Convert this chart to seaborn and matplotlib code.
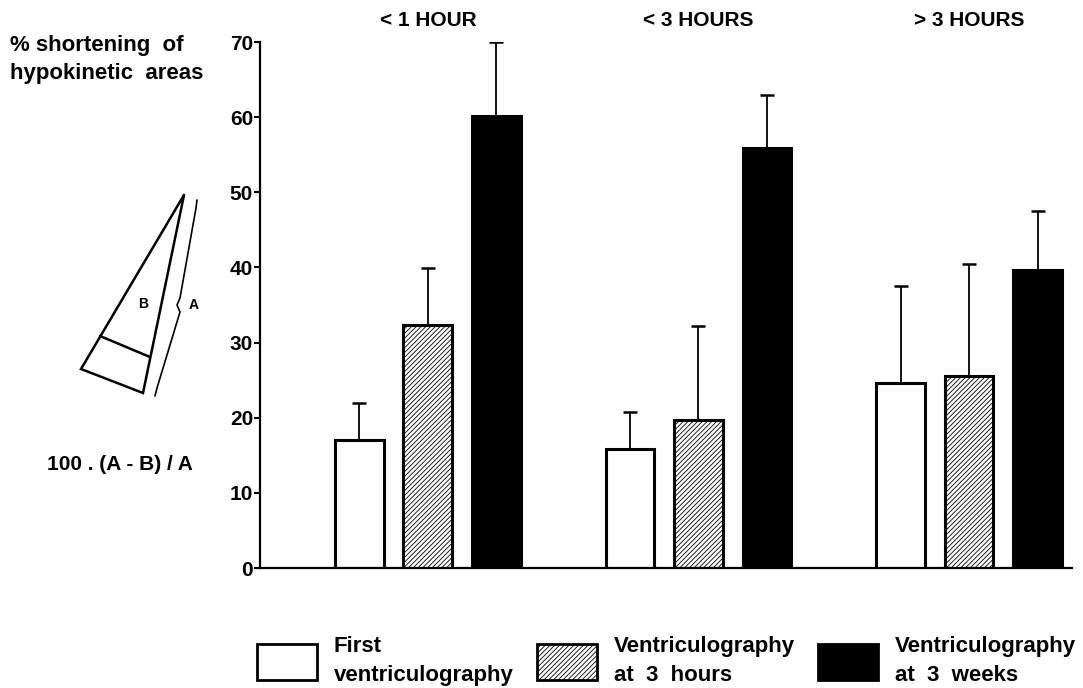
import matplotlib
matplotlib.use("Agg")
import matplotlib.pyplot as plt
import seaborn as sns
import numpy as np
import pandas as pd
from matplotlib.patches import Patch

# ---------------- data ----------------
groups = ["< 1 HOUR", "< 3 HOURS", "> 3 HOURS"]
series = ["First\nventriculography", "Ventriculography\nat  3  hours", "Ventriculography\nat  3  weeks"]
first_vals = [17.0, 15.8, 24.6]
first_err = [5.0, 5.0, 12.9]
h3_vals = [32.3, 19.7, 25.6]
h3_err = [7.6, 12.5, 14.9]
w3_vals = [60.2, 55.9, 39.7]
w3_err = [9.8, 7.0, 7.8]
yticks = [0, 10, 20, 30, 40, 50, 60, 70]

vals = [first_vals, h3_vals, w3_vals]
errs = [first_err, h3_err, w3_err]

rows = []
for s, v in zip(series, vals):
    for g, x in zip(groups, v):
        rows.append({"group": g, "series": s, "value": x})
df = pd.DataFrame(rows)

# ---------------- figure ----------------
sns.set_theme(style="white")
plt.rcParams["font.family"] = ["Liberation Sans", "DejaVu Sans"]
plt.rcParams["font.weight"] = "bold"
plt.rcParams["hatch.linewidth"] = 0.6
for k in ["text.color", "axes.labelcolor", "xtick.color", "ytick.color", "axes.edgecolor"]:
    plt.rcParams[k] = "black"

W, H = 1083, 688
fig = plt.figure(figsize=(W / 100, H / 100), dpi=100)
ax = fig.add_axes([260 / W, 1 - 568 / H, (1072 - 260) / W, (568 - 42) / H])

sns.barplot(data=df, x="group", y="value", hue="series", order=groups,
            hue_order=series, palette=["white", "white", "black"],
            edgecolor="black", linewidth=2.2, width=0.76, gap=0.29,
            errorbar=None, legend=False, ax=ax, saturation=1)

for bar in ax.containers[1]:
    bar.set_hatch("///////")

for cont, v, e in zip(ax.containers, vals, errs):
    xs = [b.get_x() + b.get_width() / 2 for b in cont]
    ax.errorbar(xs, v, yerr=[np.zeros(len(e)), e], fmt="none", ecolor="black",
                elinewidth=1.3, capsize=5, capthick=1.8, zorder=1)

ax.set_xlim(-0.62, 2.38)
ax.set_ylim(0, 70)
ax.set_yticks(yticks)
ax.set_yticklabels([str(t) for t in yticks], fontsize=15, fontweight="bold")
ax.set_xticks([])
ax.set_xlabel("")
ax.set_ylabel("")
for side in ["top", "right"]:
    ax.spines[side].set_visible(False)
for side in ["left", "bottom"]:
    ax.spines[side].set_linewidth(1.6)
    ax.spines[side].set_color("black")
ax.tick_params(axis="y", direction="out", length=4, width=1.5, pad=1, color="black",
               left=True)

for i, g in enumerate(groups):
    ax.text(i, 1.04, g, transform=ax.get_xaxis_transform(), ha="center", va="center",
            fontsize=15, fontweight="bold")

# y label text block
fig.text(10 / W, 1 - 46 / H, "% shortening  of", fontsize=16, fontweight="bold",
         ha="left", va="center")
fig.text(10 / W, 1 - 73 / H, "hypokinetic  areas", fontsize=16, fontweight="bold",
         ha="left", va="center")
fig.text(120 / W, 1 - 465 / H, "100 . (A - B) / A", fontsize=15, fontweight="bold",
         ha="center", va="center")

# ---------------- diagram (overlay in pixel coordinates) ----------------
ov = fig.add_axes([0, 0, 1, 1], zorder=-1)
ov.set_xlim(0, W)
ov.set_ylim(H, 0)
ov.axis("off")
tri_x = [184, 81, 143, 184]
tri_y = [195, 369, 393, 195]
ov.plot(tri_x, tri_y, color="black", lw=1.8, solid_joinstyle="miter")
ov.plot([100, 150], [336, 357], color="black", lw=1.8)
brace_x = [197, 196, 180, 177, 180, 157, 155]
brace_y = [200, 208, 298, 305, 312, 388, 396]
ov.plot(brace_x, brace_y, color="black", lw=1.2)
ov.text(143, 304, "B", fontsize=10, fontweight="bold", ha="center", va="center")
ov.text(194, 305, "A", fontsize=10, fontweight="bold", ha="center", va="center")

# ---------------- legend ----------------
handles = [Patch(facecolor="white", edgecolor="black", linewidth=2.0),
           Patch(facecolor="white", edgecolor="black", linewidth=2.0, hatch="///////"),
           Patch(facecolor="black", edgecolor="black", linewidth=2.0)]
leg = fig.legend(handles, series, loc="center left",
                 bbox_to_anchor=(257 / W, 1 - 661 / H), ncol=3, frameon=False,
                 fontsize=16, handlelength=2.7, handleheight=2.1,
                 handletextpad=0.75, columnspacing=1.05, borderpad=0,
                 borderaxespad=0, labelspacing=0)
for t in leg.get_texts():
    t.set_fontweight("bold")
    t.set_linespacing(1.5)

fig.savefig("out.png", dpi=100)
